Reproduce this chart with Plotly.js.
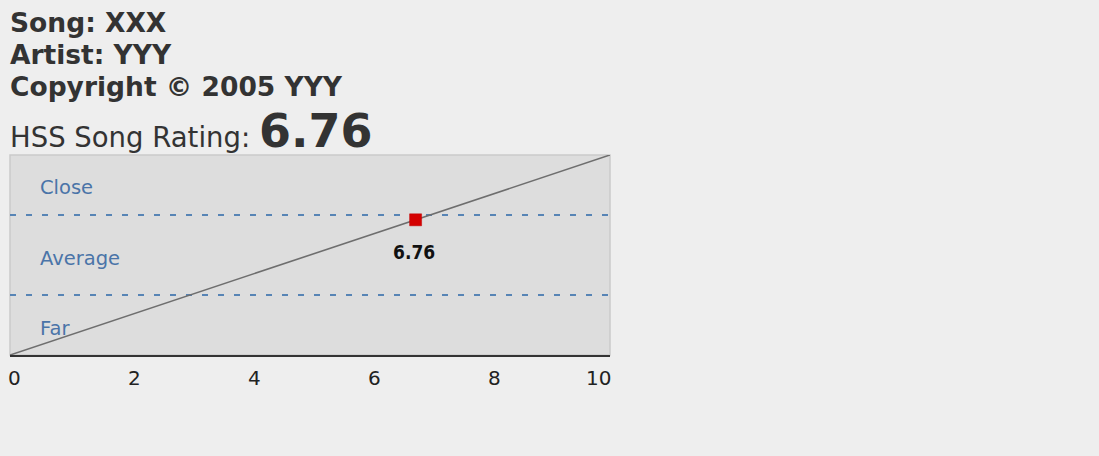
<!DOCTYPE html>
<html>
<head>
<meta charset="utf-8">
<script src="https://cdn.plot.ly/plotly-3.0.1.min.js"></script>
<style>
html,body{margin:0;padding:0;background:#eeeeee;}
#chart{width:1099px;height:456px;}
</style>
</head>
<body>
<div id="chart"></div>
<script>
// ---- data ----
const songTitle = "XXX";
const artist = "YYY";
const copyrightYear = "2005";
const rating = 6.76;
const trendX = [0, 10];
const trendY = [0, 10];
const zoneNames = ["Far", "Average", "Close"];
const zoneLabelY = [1.35, 4.85, 8.4];
const zoneBoundaries = [3, 7];
const xTicks = [0, 2, 4, 6, 8, 10];
const xRange = [0, 10];
const yRange = [0, 10];

const plotL = 10, plotT = 155, plotW = 600, plotH = 200;
function py(pixelY){ return 1 + (plotT - pixelY) / plotH; }

const traces = [];
zoneBoundaries.forEach(b => {
  traces.push({
    x: xRange, y: [b, b], mode: 'lines', hoverinfo: 'skip',
    line: {color: '#5784b5', width: 2, dash: '6px,10px'}
  });
});
traces.push({
  x: trendX, y: trendY, mode: 'lines', hoverinfo: 'skip',
  line: {color: '#6e6e6e', width: 1.6}
});
traces.push({
  x: [rating], y: [rating], mode: 'markers', hoverinfo: 'skip',
  marker: {symbol: 'square', size: 12, color: '#d40000', line: {color: '#c00000', width: 0.5}}
});

const annotations = [];
zoneNames.forEach((n, i) => {
  annotations.push({
    x: 0.5, y: zoneLabelY[i], xref: 'x', yref: 'y', text: n, showarrow: false,
    xanchor: 'left', yanchor: 'middle', xshift: -2,
    font: {family: 'DejaVu Sans, Verdana, sans-serif', size: 19.5, color: '#4a74a8'}
  });
});
xTicks.forEach((t, i) => {
  const last = i === xTicks.length - 1;
  annotations.push({
    x: t, y: 0, xref: 'x', yref: 'paper', text: String(t), showarrow: false,
    xanchor: last ? 'right' : 'left', yanchor: 'middle', yshift: -23, xshift: last ? 3 : -4,
    font: {family: 'DejaVu Sans, Verdana, sans-serif', size: 20, color: '#222222'}
  });
});
annotations.push({
  x: rating, y: rating, xref: 'x', yref: 'y', text: '<b>' + rating.toFixed(2) + '</b>',
  showarrow: false, xanchor: 'center', yanchor: 'middle', yshift: -32, xshift: -2,
  font: {family: 'DejaVu Sans Condensed, Liberation Sans Narrow, sans-serif', size: 19, color: '#111111'}
});
const headFont = {family: 'DejaVu Sans, Verdana, sans-serif', size: 26.5, color: '#333333'};
const headLines = ['<b>Song: ' + songTitle + '</b>', '<b>Artist: ' + artist + '</b>', '<b>Copyright © ' + copyrightYear + ' ' + artist + '</b>'];
const headY = [22, 54, 86];
headLines.forEach((t, i) => {
  annotations.push({
    x: 0, y: py(headY[i]), xref: 'paper', yref: 'paper', text: t, showarrow: false,
    xanchor: 'left', yanchor: 'middle', xshift: -2, font: headFont
  });
});
annotations.push({
  x: 0, y: py(131), xref: 'paper', yref: 'paper',
  text: 'HSS Song Rating: <span style="font-size:46px;font-weight:bold">' + rating.toFixed(2) + '</span>',
  showarrow: false, xanchor: 'left', yanchor: 'middle', xshift: -2,
  font: {family: 'DejaVu Sans, Verdana, sans-serif', size: 27.5, color: '#333333'}
});

const layout = {
  width: 1099, height: 456,
  margin: {l: plotL, r: 1099 - plotL - plotW, t: plotT, b: 456 - plotT - plotH, pad: 0},
  paper_bgcolor: '#eeeeee', plot_bgcolor: '#dddddd',
  showlegend: false,
  xaxis: {
    range: xRange, tickvals: xTicks, showticklabels: false,
    showgrid: false, zeroline: false, showline: true, linecolor: '#333333', linewidth: 2,
    ticks: '', fixedrange: true
  },
  yaxis: {
    range: yRange, showgrid: false, zeroline: false, showticklabels: false, ticks: '',
    showline: false, fixedrange: true
  },
  shapes: [{
    type: 'rect', xref: 'paper', yref: 'paper', x0: 0, x1: 1, y0: 0, y1: 1,
    line: {color: '#cacaca', width: 1.5}, layer: 'below'
  }],
  annotations: annotations
};

Plotly.newPlot('chart', traces, layout, {displayModeBar: false, staticPlot: true});
</script>
</body>
</html>
